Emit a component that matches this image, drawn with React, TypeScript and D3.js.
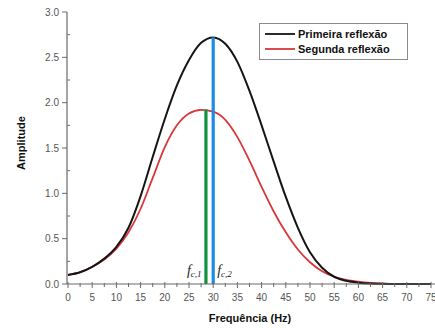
import React from "react";
import * as d3 from "d3";

const freqs = [0, 2.5, 5, 7.5, 10, 12.5, 15, 17.5, 20, 22.5, 25, 27.5, 30, 32.5, 35, 37.5, 40, 42.5, 45, 47.5, 50, 52.5, 55, 57.5, 60, 62.5, 65, 67.5, 70, 72.5, 75];
const primeira = [0.10, 0.13, 0.19, 0.28, 0.41, 0.62, 0.97, 1.40, 1.82, 2.19, 2.47, 2.66, 2.72, 2.65, 2.45, 2.13, 1.75, 1.35, 0.96, 0.62, 0.35, 0.18, 0.08, 0.035, 0.015, 0.006, 0.002, 0, 0, 0, 0];
const segunda = [0.10, 0.13, 0.19, 0.27, 0.39, 0.57, 0.83, 1.17, 1.51, 1.75, 1.88, 1.92, 1.90, 1.81, 1.62, 1.36, 1.07, 0.80, 0.57, 0.38, 0.24, 0.14, 0.08, 0.045, 0.025, 0.012, 0.005, 0.002, 0.001, 0, 0];
const seriesNames = ["Primeira reflexão", "Segunda reflexão"];
const seriesColors = ["#151515", "#d8373b"];
const cutoffFreqs = [28.5, 30];
const cutoffPeaks = [1.925, 2.72];
const cutoffColors = ["#12913f", "#1b8ce3"];
const cutoffSubs = ["c,1", "c,2"];
const xTicks = d3.range(0, 76, 5);
const xMinor = d3.range(2.5, 75, 5);
const yTicks = d3.range(0, 3.01, 0.5);
const yMinor = d3.range(0.25, 3, 0.5);

export default function App() {
  const x = d3.scaleLinear().domain([0, 75]).range([68, 431]);
  const y = d3.scaleLinear().domain([0, 3]).range([284, 12]);
  const line = d3
    .line<[number, number]>()
    .x((d) => x(d[0]))
    .y((d) => y(d[1]))
    .curve(d3.curveMonotoneX);
  const series = [primeira, segunda].map((vals) => freqs.map((f, i) => [f, vals[i]] as [number, number]));
  const axisColor = "#6a6a6a";
  const font = "'Liberation Sans', Arial, sans-serif";
  return (
    <svg width={435} height={328} style={{ position: "absolute", left: 0, top: 0, background: "#fff" }}>
      <rect x={0} y={0} width={435} height={328} fill="#fff" />
      {/* curves */}
      <path d={line(series[1]) || ""} fill="none" stroke={seriesColors[1]} strokeWidth={1.8} />
      <path d={line(series[0]) || ""} fill="none" stroke={seriesColors[0]} strokeWidth={2} />
      {/* cutoff lines */}
      {cutoffFreqs.map((f, i) => (
        <line key={i} x1={x(f)} x2={x(f)} y1={y(0)} y2={y(cutoffPeaks[i])} stroke={cutoffColors[i]} strokeWidth={3.2} />
      ))}
      {/* axes */}
      <line x1={67} x2={67} y1={y(0)} y2={y(3)} stroke={axisColor} strokeWidth={1.2} />
      <line x1={67} x2={435} y1={y(0)} y2={y(0)} stroke={axisColor} strokeWidth={1.2} />
      {yTicks.map((t) => (
        <g key={"y" + t}>
          <line x1={62} x2={67} y1={y(t)} y2={y(t)} stroke={axisColor} strokeWidth={1} />
          <text x={59} y={y(t) + 3.5} textAnchor="end" fontSize={10} fill="#555" fontFamily={font}>
            {d3.format(".1f")(t)}
          </text>
        </g>
      ))}
      {yMinor.map((t) => (
        <line key={"ym" + t} x1={67} x2={70} y1={y(t)} y2={y(t)} stroke={axisColor} strokeWidth={1} />
      ))}
      {xTicks.map((t) => (
        <g key={"x" + t}>
          <line x1={x(t)} x2={x(t)} y1={y(0) - 2} y2={y(0) + 4} stroke={axisColor} strokeWidth={1} />
          <text x={x(t)} y={y(0) + 17} textAnchor="middle" fontSize={10} fill="#555" fontFamily={font}>
            {t}
          </text>
        </g>
      ))}
      {xMinor.map((t) => (
        <line key={"xm" + t} x1={x(t)} x2={x(t)} y1={y(0) - 1} y2={y(0) + 3} stroke={axisColor} strokeWidth={1} />
      ))}
      {/* cutoff labels */}
      {cutoffFreqs.map((f, i) => (
        <text
          key={"fl" + i}
          x={i === 0 ? x(f) - 19 : x(f) + 4}
          y={275}
          fontFamily="'Liberation Serif', 'Times New Roman', serif"
          fontStyle="italic"
          fontSize={14}
          fill="#222"
        >
          f
          <tspan fontSize={9} dy={2}>
            {cutoffSubs[i]}
          </tspan>
        </text>
      ))}
      {/* axis titles */}
      <text x={250} y={322} textAnchor="middle" fontSize={11} fontWeight="bold" fontFamily={font} fill="#111">
        Frequência (Hz)
      </text>
      <text
        transform={`translate(25,${143}) rotate(-90)`}
        textAnchor="middle"
        fontSize={11}
        fontWeight="bold"
        fontFamily={font}
        fill="#111"
      >
        Amplitude
      </text>
      {/* legend */}
      <rect x={259.5} y={23.5} width={148} height={36} fill="#fff" stroke="#8a8a8a" strokeWidth={1} />
      {seriesNames.map((n, i) => (
        <g key={n}>
          <line x1={265} x2={295} y1={34 + i * 15} y2={34 + i * 15} stroke={seriesColors[i]} strokeWidth={1.8} />
          <text x={298} y={38 + i * 15} fontSize={11} fontWeight="bold" fontFamily={font} fill="#111">
            {n}
          </text>
        </g>
      ))}
    </svg>
  );
}
